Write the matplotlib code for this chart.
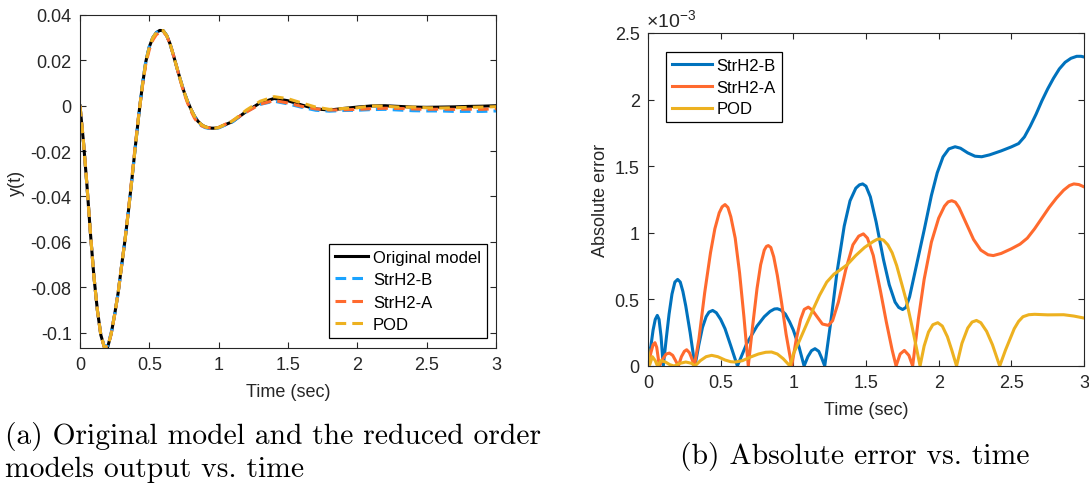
import numpy as np
import matplotlib.pyplot as plt

plt.rcParams['font.family'] = ['Liberation Sans', 'DejaVu Sans']
plt.rcParams['mathtext.fontset'] = 'custom'
plt.rcParams['mathtext.rm'] = 'Liberation Sans'
plt.rcParams['mathtext.it'] = 'Liberation Sans:italic'

# ---- panel (a): output y(t) ----
t_out = np.concatenate([np.arange(0, 1.0 + 1e-9, 0.025), np.arange(1.1, 3.0 + 1e-9, 0.1)])

y_orig = [0.0, -0.016, -0.035, -0.056, -0.075, -0.090, -0.101, -0.1064, -0.1063, -0.1005,
          -0.092, -0.0825, -0.0705, -0.0590, -0.0460, -0.0320, -0.0175, -0.0035, 0.0090, 0.0195,
          0.0260, 0.0300, 0.0322, 0.0332, 0.0331, 0.0310, 0.0272, 0.0220, 0.0165, 0.0112,
          0.0062, 0.0020, -0.0015, -0.0045, -0.0068, -0.0083, -0.0092, -0.0097, -0.0099, -0.0099,
          -0.0096,
          -0.0070, -0.0025, 0.0013, 0.0032, 0.0022, 0.0003, -0.0014, -0.0019, -0.0012, -0.0006,
          -0.0001, 0.0000, -0.0003, -0.0006, -0.0007, -0.0006, -0.0005, -0.0003, -0.0002, 0.0000]

y_strh2b = [0.0, -0.016, -0.0353, -0.056, -0.075, -0.090, -0.1008, -0.1060, -0.1057, -0.1000,
            -0.092, -0.0825, -0.0705, -0.0590, -0.0460, -0.0320, -0.0175, -0.0033, 0.0094, 0.0199,
            0.0262, 0.0300, 0.0322, 0.0332, 0.0331, 0.0310, 0.0272, 0.0220, 0.0165, 0.0112,
            0.0062, 0.0020, -0.0016, -0.0047, -0.0071, -0.0087, -0.0096, -0.0100, -0.0101, -0.0100,
            -0.0098,
            -0.0071, -0.0025, 0.0006, 0.0020, 0.0008, -0.0007, -0.0020, -0.0024, -0.0021, -0.0020,
            -0.0017, -0.0016, -0.0019, -0.0022, -0.0023, -0.0023, -0.0025, -0.0025, -0.0025, -0.0023]

y_strh2a = [0.0, -0.0158, -0.035, -0.056, -0.075, -0.090, -0.101, -0.1063, -0.1062, -0.1005,
            -0.092, -0.0825, -0.0705, -0.0588, -0.0455, -0.0312, -0.0167, -0.0030, 0.0084, 0.0186,
            0.0248, 0.0289, 0.0313, 0.0324, 0.0326, 0.0308, 0.0272, 0.0220, 0.0165, 0.0108,
            0.0056, 0.0013, -0.0023, -0.0054, -0.0076, -0.0088, -0.0094, -0.0097, -0.0099, -0.0099,
            -0.0096,
            -0.0066, -0.0028, 0.0007, 0.0023, 0.0012, -0.0003, -0.0014, -0.0019, -0.0018, -0.0016,
            -0.0013, -0.0011, -0.0012, -0.0014, -0.0016, -0.0015, -0.0016, -0.0015, -0.0016, -0.0013]

y_pod = [0.0, -0.016, -0.035, -0.056, -0.075, -0.090, -0.101, -0.1064, -0.1063, -0.1005,
         -0.092, -0.0825, -0.0705, -0.0590, -0.0460, -0.0320, -0.0175, -0.0035, 0.0090, 0.0195,
         0.0260, 0.0300, 0.0322, 0.0332, 0.0331, 0.0310, 0.0272, 0.0220, 0.0165, 0.0112,
         0.0062, 0.0020, -0.0015, -0.0045, -0.0068, -0.0083, -0.0092, -0.0097, -0.0099, -0.0099,
         -0.0096,
         -0.0067, -0.0019, 0.0020, 0.0040, 0.0031, 0.0012, -0.0006, -0.0016, -0.0012, -0.0009,
         -0.0001, -0.0002, -0.0006, -0.0006, -0.0009, -0.0010, -0.0009, -0.0007, -0.0006, -0.0004]

# ---- panel (b): absolute error (x 1e-3) ----
t_err_b = [0.0, 0.02, 0.035, 0.05, 0.064, 0.076, 0.09, 0.105, 0.125, 0.145, 0.165, 0.185, 0.204,
           0.222, 0.24, 0.26, 0.29, 0.323, 0.35, 0.375, 0.40, 0.42, 0.445, 0.47, 0.50, 0.53, 0.57,
           0.615, 0.68, 0.75, 0.80, 0.84, 0.87, 0.89, 0.915, 0.945, 0.975, 1.00, 1.04, 1.074,
           1.10, 1.125, 1.149, 1.175, 1.195, 1.216, 1.26, 1.30, 1.35, 1.39, 1.43, 1.455, 1.477,
           1.50, 1.53, 1.57, 1.62, 1.66, 1.70, 1.725, 1.752, 1.775, 1.80, 1.84, 1.90, 1.95, 1.99,
           2.03, 2.07, 2.113, 2.15, 2.20, 2.25, 2.296, 2.35, 2.43, 2.50, 2.55, 2.59, 2.63, 2.67,
           2.71, 2.75, 2.79, 2.83, 2.87, 2.91, 2.95, 2.98, 3.00]
err_b = [0.05, 0.15, 0.27, 0.35, 0.38, 0.35, 0.22, 0.0, 0.20, 0.39, 0.54, 0.63, 0.65,
         0.63, 0.56, 0.45, 0.25, 0.0, 0.16, 0.29, 0.37, 0.405, 0.417, 0.40, 0.35, 0.28, 0.15,
         0.0, 0.17, 0.30, 0.37, 0.41, 0.428, 0.43, 0.42, 0.39, 0.33, 0.27, 0.14, 0.0,
         0.07, 0.115, 0.13, 0.11, 0.06, 0.0, 0.35, 0.70, 1.05, 1.24, 1.335, 1.36, 1.367,
         1.35, 1.27, 1.08, 0.80, 0.61, 0.48, 0.44, 0.424, 0.44, 0.52, 0.72, 1.02, 1.28, 1.45,
         1.57, 1.63, 1.646, 1.635, 1.60, 1.575, 1.571, 1.585, 1.615, 1.645, 1.67, 1.72, 1.80, 1.89,
         1.99, 2.08, 2.16, 2.23, 2.28, 2.31, 2.325, 2.325, 2.32]

t_err_a = [0.0, 0.02, 0.035, 0.048, 0.06, 0.078, 0.10, 0.125, 0.147, 0.17, 0.19, 0.209, 0.23,
           0.25, 0.266, 0.285, 0.30, 0.319, 0.35, 0.39, 0.43, 0.46, 0.49, 0.51, 0.53, 0.55, 0.57,
           0.60, 0.63, 0.66, 0.69, 0.72, 0.75, 0.775, 0.80, 0.815, 0.828, 0.845, 0.865, 0.89, 0.92,
           0.95, 0.989, 1.02, 1.05, 1.075, 1.103, 1.13, 1.17, 1.20, 1.241, 1.27, 1.31, 1.36, 1.41,
           1.45, 1.482, 1.51, 1.55, 1.60, 1.64, 1.68, 1.707, 1.735, 1.764, 1.795, 1.821, 1.86, 1.90,
           1.95, 2.00, 2.04, 2.065, 2.09, 2.115, 2.14, 2.19, 2.24, 2.29, 2.34, 2.376, 2.43, 2.50,
           2.56, 2.61, 2.66, 2.71, 2.76, 2.81, 2.86, 2.90, 2.93, 2.965, 3.00]
err_a = [0.0, 0.10, 0.16, 0.175, 0.14, 0.0, 0.05, 0.09, 0.097, 0.08, 0.04, 0.0, 0.07,
         0.11, 0.122, 0.10, 0.06, 0.0, 0.20, 0.55, 0.85, 1.03, 1.15, 1.195, 1.212, 1.19, 1.12,
         0.96, 0.70, 0.37, 0.0, 0.30, 0.58, 0.76, 0.87, 0.898, 0.904, 0.89, 0.82, 0.68, 0.47,
         0.24, 0.0, 0.20, 0.35, 0.425, 0.442, 0.42, 0.36, 0.315, 0.305, 0.34, 0.48, 0.72, 0.91,
         0.975, 0.992, 0.96, 0.83, 0.56, 0.33, 0.12, 0.0, 0.09, 0.117, 0.08, 0.0, 0.35, 0.65,
         0.93, 1.11, 1.20, 1.232, 1.241, 1.23, 1.19, 1.07, 0.95, 0.87, 0.835, 0.829, 0.845, 0.88,
         0.915, 0.96, 1.03, 1.11, 1.19, 1.26, 1.32, 1.355, 1.367, 1.362, 1.345]

t_err_pod = [0.0, 0.012, 0.03, 0.05, 0.065, 0.09, 0.12, 0.15, 0.18, 0.22, 0.26, 0.30, 0.323,
             0.36, 0.40, 0.438, 0.48, 0.53, 0.57, 0.60, 0.65, 0.70, 0.76, 0.81, 0.85, 0.89, 0.93,
             0.977, 1.00, 1.046, 1.09, 1.138, 1.18, 1.23, 1.28, 1.32, 1.37, 1.43, 1.49, 1.55,
             1.575, 1.596, 1.62, 1.65, 1.68, 1.711, 1.75, 1.78, 1.82, 1.85, 1.872, 1.90, 1.93,
             1.96, 1.994, 2.025, 2.06, 2.09, 2.123, 2.16, 2.20, 2.23, 2.26, 2.29, 2.33, 2.37, 2.42,
             2.46, 2.49, 2.52, 2.55, 2.58, 2.62, 2.66, 2.75, 2.86, 2.93, 3.00]
err_pod = [0.12, 0.01, 0.07, 0.04, 0.0, 0.04, 0.03, 0.01, 0.0, 0.02, 0.03, 0.02, 0.0,
           0.04, 0.07, 0.08, 0.07, 0.045, 0.032, 0.03, 0.04, 0.065, 0.09, 0.103, 0.105, 0.09, 0.055,
           0.0, 0.09, 0.20, 0.31, 0.43, 0.53, 0.63, 0.69, 0.72, 0.76, 0.83, 0.89, 0.935,
           0.95, 0.954, 0.945, 0.91, 0.85, 0.754, 0.60, 0.48, 0.28, 0.12, 0.0, 0.15, 0.255,
           0.31, 0.325, 0.30, 0.22, 0.12, 0.0, 0.17, 0.285, 0.33, 0.342, 0.325, 0.26, 0.16, 0.0,
           0.12, 0.20, 0.28, 0.335, 0.37, 0.385, 0.388, 0.384, 0.385, 0.375, 0.36]

dark = '#262626'
W, H = 1089, 489


def matlab_style(ax):
    for s in ax.spines.values():
        s.set_color(dark)
        s.set_linewidth(0.8)
    ax.tick_params(direction='in', top=True, right=True, length=4, width=0.8,
                   color=dark, labelcolor=dark, labelsize=13, pad=6)


fig = plt.figure(figsize=(W / 100, H / 100), dpi=100)
ax1 = fig.add_axes([80 / W, 1 - 349 / H, 416 / W, 333 / H])
ax2 = fig.add_axes([648 / W, 1 - 367 / H, 436 / W, 333 / H])

dash = (0, (3.5, 2))
ax1.plot(t_out, y_orig, color='black', lw=2.2, label='Original model')
ax1.plot(t_out, y_strh2b, color='#1AA3FF', lw=2.2, ls=dash, label='StrH2-B')
ax1.plot(t_out, y_strh2a, color='#FF6A2E', lw=2.2, ls=dash, label='StrH2-A')
ax1.plot(t_out, y_pod, color='#EDB120', lw=2.2, ls=dash, label='POD')
ax1.set_xlim(0, 3)
ax1.set_ylim(-0.1068, 0.04)
ax1.set_xticks([0, 0.5, 1, 1.5, 2, 2.5, 3])
ax1.set_xticklabels(['0', '0.5', '1', '1.5', '2', '2.5', '3'])
yt = [-0.1, -0.08, -0.06, -0.04, -0.02, 0, 0.02, 0.04]
ax1.set_yticks(yt)
ax1.set_yticklabels(['-0.1', '-0.08', '-0.06', '-0.04', '-0.02', '0', '0.02', '0.04'])
ax1.set_xlabel('Time (sec)', fontsize=13, color=dark, labelpad=7)
ax1.set_ylabel('y(t)', fontsize=13, color=dark)
matlab_style(ax1)
leg1 = ax1.legend(loc='lower right', bbox_to_anchor=(0.978, 0.03), borderaxespad=0,
                  fontsize=12, handlelength=2.0, labelspacing=0.45, handletextpad=0.3,
                  borderpad=0.35, fancybox=False, framealpha=1)
leg1.get_frame().set_edgecolor('black')
leg1.get_frame().set_linewidth(0.9)

ax2.plot(t_err_b, err_b, color='#0072BD', lw=2.2, label='StrH2-B')
ax2.plot(t_err_a, err_a, color='#FF6A2E', lw=2.2, label='StrH2-A')
ax2.plot(t_err_pod, err_pod, color='#EDB120', lw=2.2, label='POD')
ax2.set_xlim(0, 3)
ax2.set_ylim(0, 2.5)
ax2.set_xticks([0, 0.5, 1, 1.5, 2, 2.5, 3])
ax2.set_xticklabels(['0', '0.5', '1', '1.5', '2', '2.5', '3'])
ax2.set_yticks([0, 0.5, 1, 1.5, 2, 2.5])
ax2.set_yticklabels(['0', '0.5', '1', '1.5', '2', '2.5'])
ax2.set_xlabel('Time (sec)', fontsize=13, color=dark, labelpad=7)
ax2.set_ylabel('Absolute error', fontsize=13, color=dark)
ax2.text(-0.005, 1.008, r'$\times10^{-3}$', transform=ax2.transAxes, fontsize=14,
         color=dark, ha='left', va='bottom')
matlab_style(ax2)
leg2 = ax2.legend(loc='upper left', bbox_to_anchor=(0.041, 0.942), borderaxespad=0,
                  fontsize=12, handlelength=2.4, labelspacing=0.4, handletextpad=0.3,
                  borderpad=0.35, fancybox=False, framealpha=1)
leg2.get_frame().set_edgecolor('black')
leg2.get_frame().set_linewidth(0.9)

# captions
fig.text(5 / W, 1 - 437 / H, '(a) Original model and the reduced order', family='cmr10',
         fontsize=21.3, va='center', ha='left')
fig.text(5 / W, 1 - 470 / H, 'models output vs. time', family='cmr10',
         fontsize=21.3, va='center', ha='left')
fig.text(855 / W, 1 - 457 / H, '(b) Absolute error vs. time', family='cmr10',
         fontsize=21.3, va='center', ha='center')

fig.savefig('out.png', dpi=100)
